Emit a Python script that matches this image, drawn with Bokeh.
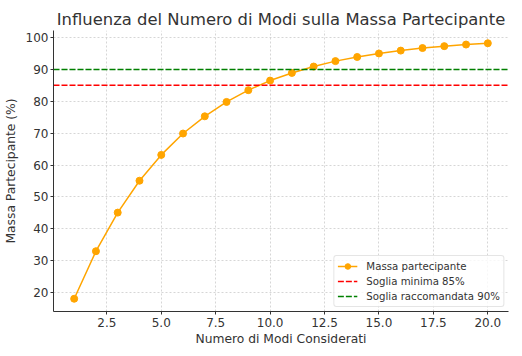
from bokeh.plotting import figure
from bokeh.models import FixedTicker, PrintfTickFormatter, Legend, LegendItem, Range1d
from bokeh.embed import file_html
from bokeh.resources import INLINE

modi = list(range(1, 21))
massa = [18.1, 33.0, 45.1, 55.1, 63.2, 69.9, 75.3, 79.8, 83.5, 86.5,
         88.9, 90.9, 92.6, 93.9, 95.0, 95.9, 96.7, 97.3, 97.8, 98.2]
soglia_min = 85
soglia_racc = 90
x_ticks = [2.5, 5.0, 7.5, 10.0, 12.5, 15.0, 17.5, 20.0]
y_ticks = [20, 30, 40, 50, 60, 70, 80, 90, 100]

FONT = "DejaVu Sans"
TXT = "#333333"

p = figure(width=514, height=348, output_backend="svg", toolbar_location=None,
           x_range=Range1d(0.05, 20.95), y_range=Range1d(14.1, 102.2),
           min_border_left=50, min_border_right=6, min_border_top=30, min_border_bottom=34)
p.title.text = "Influenza del Numero di Modi sulla Massa Partecipante"
p.title.align = "center"
p.title.text_font = FONT
p.title.text_font_size = "16.4px"
p.title.text_font_style = "normal"
p.title.text_color = TXT
p.title.standoff = 3
p.outline_line_color = None

for ax in (p.xaxis, p.yaxis):
    ax.axis_label_text_font = FONT
    ax.axis_label_text_font_size = "12.3px"
    ax.axis_label_text_font_style = "normal"
    ax.axis_label_text_color = TXT
    ax.major_label_text_font = FONT
    ax.major_label_text_font_size = "12px"
    ax.major_label_text_color = TXT
    ax.axis_line_color = "#333333"
    ax.major_tick_line_color = "#333333"
    ax.major_tick_in = 0
    ax.major_tick_out = 3
    ax.major_label_standoff = 2
    ax.minor_tick_line_color = None

p.xaxis.axis_label = "Numero di Modi Considerati"
p.yaxis.axis_label = "Massa Partecipante (%)"
p.xaxis.ticker = FixedTicker(ticks=x_ticks)
p.xaxis.formatter = PrintfTickFormatter(format="%.1f")
p.yaxis.ticker = FixedTicker(ticks=y_ticks)
p.xaxis.major_label_standoff = 3
p.xaxis.axis_label_standoff = 2
p.yaxis.axis_label_standoff = 5

p.grid.grid_line_color = "#cccccc"
p.grid.grid_line_dash = "2 2"
p.grid.grid_line_width = 0.8

r_line = p.line(modi, massa, line_color="#FFA500", line_width=1.5)
r_pts = p.scatter(modi, massa, size=7, fill_color="#FFA500", line_color="#FFA500")

r_min = p.line([0.05, 20.95], [soglia_min, soglia_min], line_color="#FF0000", line_dash="6 2", line_width=1.5)
r_racc = p.line([0.05, 20.95], [soglia_racc, soglia_racc], line_color="#008000", line_dash="6 2", line_width=1.5)

legend = Legend(items=[
    LegendItem(label="Massa partecipante", renderers=[r_line, r_pts]),
    LegendItem(label="Soglia minima 85%", renderers=[r_min]),
    LegendItem(label="Soglia raccomandata 90%", renderers=[r_racc]),
], location="bottom_right")
legend.label_text_font = FONT
legend.label_text_font_size = "10.2px"
legend.label_text_color = TXT
legend.label_height = 14
legend.glyph_height = 14
legend.glyph_width = 20
legend.label_standoff = 9
legend.spacing = 1
legend.padding = 3
legend.margin = 4
legend.border_line_color = "#cccccc"
legend.border_radius = 3
legend.background_fill_alpha = 0.8
p.add_layout(legend)

open("out.html", "w").write(file_html(p, INLINE))
